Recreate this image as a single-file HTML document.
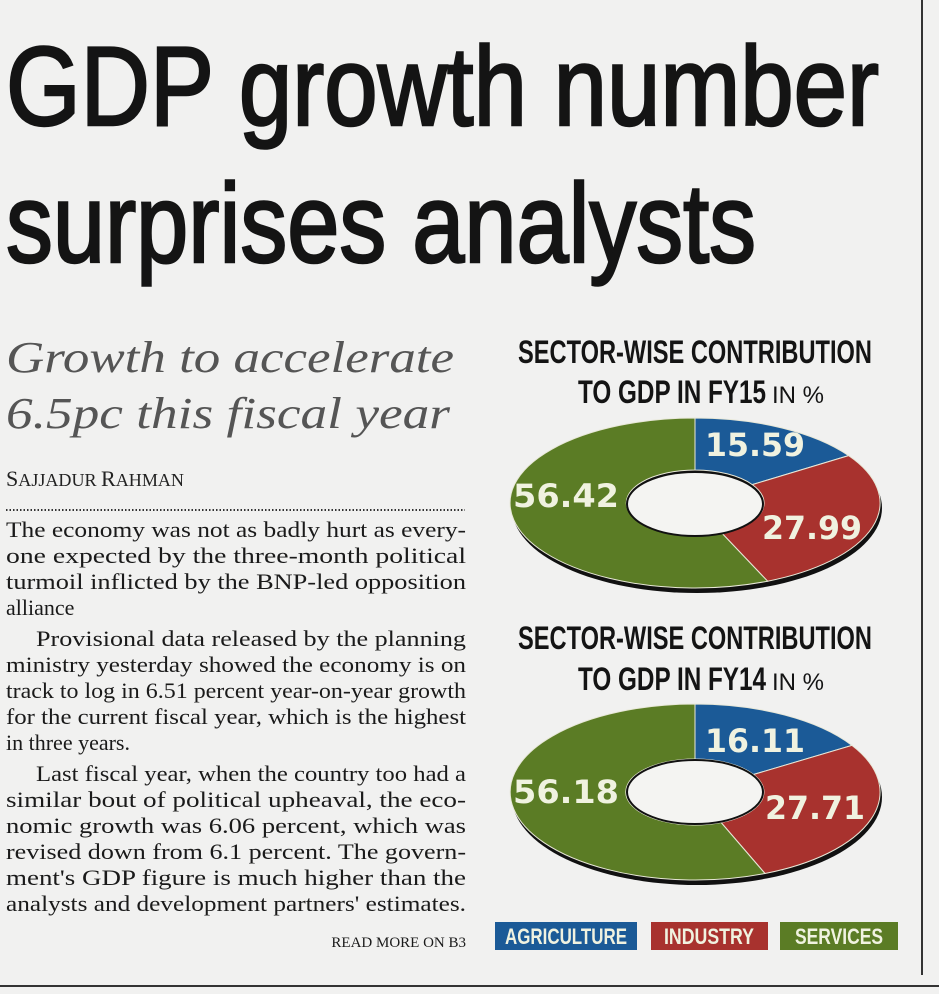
<!DOCTYPE html>
<html><head><meta charset="utf-8"><style>
html,body{margin:0;padding:0;background:#f1f1f0;}
svg{display:block}
</style></head><body>
<svg width="939" height="994" viewBox="0 0 939 994" xmlns="http://www.w3.org/2000/svg">
<rect width="939" height="994" fill="#f1f1f0"/>
<line x1="922" y1="0" x2="922" y2="975" stroke="#333" stroke-width="2"/>
<line x1="0" y1="986" x2="939" y2="986" stroke="#333" stroke-width="2"/>
<g font-family="'Liberation Sans Narrow','Liberation Sans',sans-serif" fill="#141414" stroke="#141414" stroke-width="2.5">
<text x="6" y="125" font-size="112" textLength="873" lengthAdjust="spacingAndGlyphs">GDP growth number</text>
<text x="6" y="262" font-size="112" textLength="750" lengthAdjust="spacingAndGlyphs">surprises analysts</text>
</g>
<g font-family="'Liberation Serif',serif" font-style="italic" fill="#555">
<text x="6" y="372" font-size="44" textLength="448" lengthAdjust="spacingAndGlyphs">Growth to accelerate</text>
<text x="6" y="428" font-size="44" textLength="444" lengthAdjust="spacingAndGlyphs">6.5pc this fiscal year</text>
</g>
<text x="6" y="486" font-family="'Liberation Serif',serif" font-size="18" fill="#222" textLength="178" lengthAdjust="spacingAndGlyphs"><tspan font-size="22">S</tspan>AJJADUR <tspan font-size="22">R</tspan>AHMAN</text>
<line x1="6" y1="510" x2="465" y2="510" stroke="#333" stroke-width="2" stroke-dasharray="1.5,2"/>
<g font-family="'Liberation Serif',serif" font-size="22" fill="#1a1a1a">
<text x="6" y="537" textLength="460" lengthAdjust="spacingAndGlyphs">The economy was not as badly hurt as every-</text>
<text x="6" y="563" textLength="460" lengthAdjust="spacingAndGlyphs">one expected by the three-month political</text>
<text x="6" y="589" textLength="460" lengthAdjust="spacingAndGlyphs">turmoil inflicted by the BNP-led opposition</text>
<text x="6" y="615">alliance</text>
<text x="36" y="646" textLength="430" lengthAdjust="spacingAndGlyphs">Provisional data released by the planning</text>
<text x="6" y="672" textLength="460" lengthAdjust="spacingAndGlyphs">ministry yesterday showed the economy is on</text>
<text x="6" y="698" textLength="460" lengthAdjust="spacingAndGlyphs">track to log in 6.51 percent year-on-year growth</text>
<text x="6" y="724" textLength="460" lengthAdjust="spacingAndGlyphs">for the current fiscal year, which is the highest</text>
<text x="6" y="750">in three years.</text>
<text x="36" y="781" textLength="430" lengthAdjust="spacingAndGlyphs">Last fiscal year, when the country too had a</text>
<text x="6" y="807" textLength="460" lengthAdjust="spacingAndGlyphs">similar bout of political upheaval, the eco-</text>
<text x="6" y="833" textLength="460" lengthAdjust="spacingAndGlyphs">nomic growth was 6.06 percent, which was</text>
<text x="6" y="859" textLength="460" lengthAdjust="spacingAndGlyphs">revised down from 6.1 percent.  The govern-</text>
<text x="6" y="885" textLength="460" lengthAdjust="spacingAndGlyphs">ment's GDP figure is much higher than the</text>
<text x="6" y="911" textLength="460" lengthAdjust="spacingAndGlyphs">analysts and development partners' estimates.</text>
<text x="466" y="947" font-size="15" text-anchor="end">READ MORE ON B3</text>
</g>
<g font-family="'Liberation Sans Narrow','Liberation Sans',sans-serif" font-weight="bold" fill="#141414" font-size="32">
<text x="518" y="363" textLength="354" lengthAdjust="spacingAndGlyphs">SECTOR-WISE CONTRIBUTION</text>
<text x="578" y="403" textLength="188" lengthAdjust="spacingAndGlyphs">TO GDP IN FY15</text>
<text x="772" y="403" font-weight="normal" font-size="24">IN %</text>
<text x="518" y="649" textLength="354" lengthAdjust="spacingAndGlyphs">SECTOR-WISE CONTRIBUTION</text>
<text x="578" y="690" textLength="188" lengthAdjust="spacingAndGlyphs">TO GDP IN FY14</text>
<text x="772" y="690" font-weight="normal" font-size="24">IN %</text>
</g>
<ellipse cx="697" cy="508" rx="185" ry="85" fill="#111"/>
<path d="M695,418 A185,85 0 0 1 848.6,455.6 L752.3,484.6 A69,33 0 0 0 695,470 Z" fill="#1b5a97" stroke="#e8e8d8" stroke-width="1"/>
<path d="M848.6,455.6 A185,85 0 0 1 767.6,581.2 L722.1,533.4 A69,33 0 0 0 752.3,484.6 Z" fill="#a8322e" stroke="#e8e8d8" stroke-width="1"/>
<path d="M767.6,581.2 A185,85 0 1 1 695,418 L695,470 A69,33 0 1 0 722.1,533.4 Z" fill="#5b7c25" stroke="#e8e8d8" stroke-width="1"/>
<ellipse cx="695" cy="504" rx="68" ry="32" fill="#f4f4f2" stroke="#111" stroke-width="2"/>
<ellipse cx="697" cy="797" rx="185" ry="88" fill="#111"/>
<path d="M695,704 A185,88 0 0 1 851.9,745.4 L753.5,774.5 A69,33 0 0 0 695,759 Z" fill="#1b5a97" stroke="#e8e8d8" stroke-width="1"/>
<path d="M851.9,745.4 A185,88 0 0 1 765,873.5 L721.1,822.5 A69,33 0 0 0 753.5,774.5 Z" fill="#a8322e" stroke="#e8e8d8" stroke-width="1"/>
<path d="M765,873.5 A185,88 0 1 1 695,704 L695,759 A69,33 0 1 0 721.1,822.5 Z" fill="#5b7c25" stroke="#e8e8d8" stroke-width="1"/>
<ellipse cx="695" cy="792" rx="68" ry="32" fill="#f4f4f2" stroke="#111" stroke-width="2"/>
<g font-family="'DejaVu Sans','Liberation Sans',sans-serif" font-weight="bold" fill="#f0f2e0" font-size="32" text-anchor="middle">
<text x="755" y="456" textLength="100" lengthAdjust="spacingAndGlyphs">15.59</text>
<text x="566" y="507" textLength="106" lengthAdjust="spacingAndGlyphs">56.42</text>
<text x="812" y="539" textLength="100" lengthAdjust="spacingAndGlyphs">27.99</text>
<text x="755" y="752" textLength="100" lengthAdjust="spacingAndGlyphs">16.11</text>
<text x="566" y="803" textLength="106" lengthAdjust="spacingAndGlyphs">56.18</text>
<text x="815" y="819" textLength="100" lengthAdjust="spacingAndGlyphs">27.71</text>
</g>
<rect x="495" y="922" width="142" height="28" fill="#1b5a97"/>
<rect x="651" y="922" width="117" height="28" fill="#a8322e"/>
<rect x="780" y="922" width="118" height="28" fill="#5b7c25"/>
<g font-family="'Liberation Sans Narrow','Liberation Sans',sans-serif" font-weight="bold" font-size="22" fill="#f0f2e0" text-anchor="middle">
<text x="566" y="944" textLength="122" lengthAdjust="spacingAndGlyphs">AGRICULTURE</text>
<text x="709" y="944" textLength="90" lengthAdjust="spacingAndGlyphs">INDUSTRY</text>
<text x="839" y="944" textLength="88" lengthAdjust="spacingAndGlyphs">SERVICES</text>
</g>
</svg>
</body></html>
